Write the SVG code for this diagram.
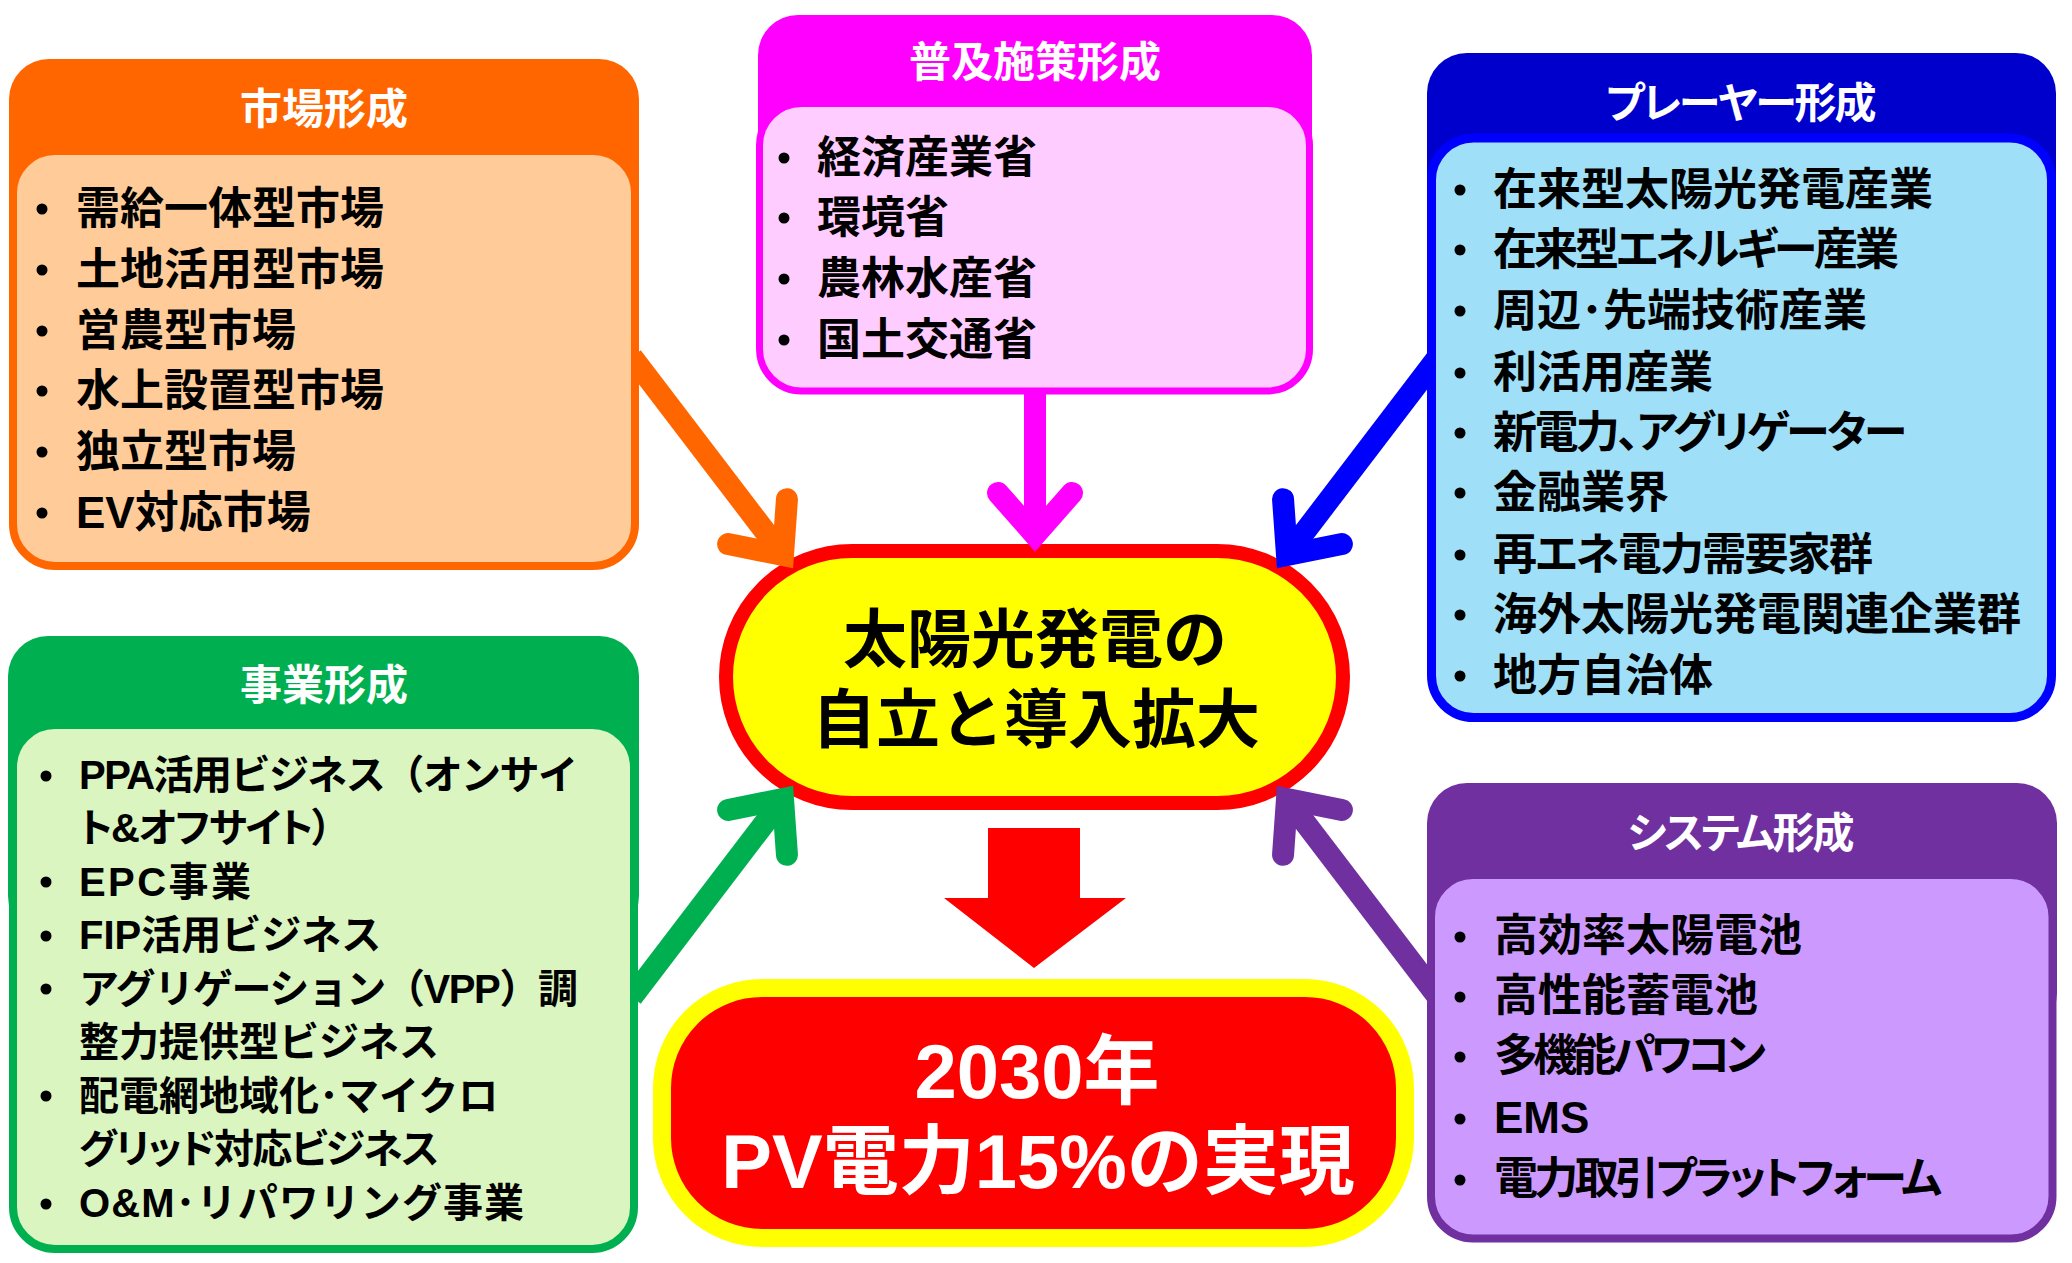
<svg xmlns="http://www.w3.org/2000/svg" width="2072" height="1263" viewBox="0 0 2072 1263">
<style>
text{font-family:"Liberation Sans","Noto Sans CJK JP","Noto Sans CJK SC",sans-serif;font-weight:700}
.kana{font-feature-settings:"palt" 1}
.title{font-size:42px;fill:#FFFFFF;text-anchor:middle}
.item{font-size:44px;fill:#000000}
.itemS{font-size:40px;fill:#000000}
.bul{fill:#000000}
.ctr{font-size:64px;fill:#000000;text-anchor:middle}
.goal{font-size:76px;fill:#FFFFFF;text-anchor:middle}
.conn{fill:none;stroke-width:22;stroke-linecap:butt}
.ah{fill:none;stroke-width:22;stroke-linecap:round;stroke-linejoin:miter;stroke-miterlimit:10}
</style>
<defs>
<marker id="m-or" markerUnits="userSpaceOnUse" markerWidth="120" markerHeight="120" viewBox="-60 -60 120 120" refX="0" refY="0" orient="auto" overflow="visible"><path class="ah" d="M-42,-37 L0,0 L-42,37" stroke="#FF6600"/></marker>
<marker id="m-mg" markerUnits="userSpaceOnUse" markerWidth="120" markerHeight="120" viewBox="-60 -60 120 120" refX="0" refY="0" orient="auto" overflow="visible"><path class="ah" d="M-42,-37 L0,0 L-42,37" stroke="#FF00FF"/></marker>
<marker id="m-bl" markerUnits="userSpaceOnUse" markerWidth="120" markerHeight="120" viewBox="-60 -60 120 120" refX="0" refY="0" orient="auto" overflow="visible"><path class="ah" d="M-42,-37 L0,0 L-42,37" stroke="#0000FF"/></marker>
<marker id="m-gr" markerUnits="userSpaceOnUse" markerWidth="120" markerHeight="120" viewBox="-60 -60 120 120" refX="0" refY="0" orient="auto" overflow="visible"><path class="ah" d="M-42,-37 L0,0 L-42,37" stroke="#00B050"/></marker>
<marker id="m-pu" markerUnits="userSpaceOnUse" markerWidth="120" markerHeight="120" viewBox="-60 -60 120 120" refX="0" refY="0" orient="auto" overflow="visible"><path class="ah" d="M-42,-37 L0,0 L-42,37" stroke="#7030A0"/></marker>
</defs>
<rect x="0" y="0" width="2072" height="1263" fill="#FFFFFF"/>

<g id="center">
<rect x="726" y="551" width="617" height="252" rx="126" ry="126" fill="#FFFF00" stroke="#FF0000" stroke-width="14"/>
<text class="ctr" x="1035" y="662">太陽光発電の</text>
<text class="ctr" x="1036" y="742">自立と導入拡大</text>
</g>

<g id="goal">
<rect x="662" y="988" width="743" height="250" rx="100" ry="100" fill="#FF0000" stroke="#FFFF00" stroke-width="18"/>
<text class="goal" x="1037" y="1098">2030年</text>
<text class="goal" x="1038" y="1188">PV電力15%の実現</text>
</g>

<g id="connectors">
<polygon points="988,828 1080,828 1080,898 1126,898 1034,968 944,898 988,898" fill="#FF0000"/>
<path class="conn" d="M632,357 L783,555" stroke="#FF6600" marker-end="url(#m-or)"/>
<path class="conn" d="M1035,390 L1035,535" stroke="#FF00FF" marker-end="url(#m-mg)"/>
<path class="conn" d="M1438,357 L1287,555" stroke="#0000FF" marker-end="url(#m-bl)"/>
<path class="conn" d="M632,997 L783,799" stroke="#00B050" marker-end="url(#m-gr)"/>
<path class="conn" d="M1438,997 L1287,799" stroke="#7030A0" marker-end="url(#m-pu)"/>
</g>

<g id="market">
<rect x="9" y="59" width="630" height="300" rx="40" fill="#FF6600"/>
<rect x="13" y="151" width="622" height="415" rx="42" fill="#FFCC99" stroke="#FF6600" stroke-width="8"/>
<text class="title" x="324" y="124">市場形成</text>
<circle class="bul" cx="42" cy="209" r="5.5"/>
<circle class="bul" cx="42" cy="270" r="5.5"/>
<circle class="bul" cx="42" cy="331" r="5.5"/>
<circle class="bul" cx="42" cy="391" r="5.5"/>
<circle class="bul" cx="42" cy="452" r="5.5"/>
<circle class="bul" cx="42" cy="513" r="5.5"/>
<text class="item" x="76" y="224">需給一体型市場</text>
<text class="item" x="76" y="285">土地活用型市場</text>
<text class="item" x="76" y="346">営農型市場</text>
<text class="item" x="76" y="406">水上設置型市場</text>
<text class="item" x="76" y="467">独立型市場</text>
<text class="item" x="76" y="528">EV対応市場</text>
</g>

<g id="policy">
<rect x="758" y="15" width="554" height="250" rx="40" fill="#FF00FF"/>
<rect x="759.5" y="103.5" width="550" height="287.5" rx="42" fill="#FFCCFF" stroke="#FF00FF" stroke-width="7"/>
<text class="title" x="1035" y="77">普及施策形成</text>
<circle class="bul" cx="784" cy="158" r="5.5"/>
<circle class="bul" cx="784" cy="218" r="5.5"/>
<circle class="bul" cx="784" cy="279" r="5.5"/>
<circle class="bul" cx="784" cy="340" r="5.5"/>
<text class="item" x="817" y="173">経済産業省</text>
<text class="item" x="817" y="233">環境省</text>
<text class="item" x="817" y="294">農林水産省</text>
<text class="item" x="817" y="355">国土交通省</text>
</g>

<g id="player">
<rect x="1427" y="53" width="629" height="300" rx="40" fill="#0000CC"/>
<rect x="1431.5" y="138" width="620" height="579.5" rx="42" fill="#9FDFF7" stroke="#0000FF" stroke-width="9"/>
<text class="title kana" x="1741" y="118" textLength="271" lengthAdjust="spacing">プレーヤー形成</text>
<circle class="bul" cx="1460" cy="190" r="5.5"/>
<circle class="bul" cx="1460" cy="250" r="5.5"/>
<circle class="bul" cx="1460" cy="311" r="5.5"/>
<circle class="bul" cx="1460" cy="373" r="5.5"/>
<circle class="bul" cx="1460" cy="433" r="5.5"/>
<circle class="bul" cx="1460" cy="493" r="5.5"/>
<circle class="bul" cx="1460" cy="555" r="5.5"/>
<circle class="bul" cx="1460" cy="615" r="5.5"/>
<circle class="bul" cx="1460" cy="676" r="5.5"/>
<text class="item" x="1493" y="205">在来型太陽光発電産業</text>
<text class="item kana" x="1493" y="265" textLength="406" lengthAdjust="spacing">在来型エネルギー産業</text>
<text class="item" x="1493" y="326">周辺･先端技術産業</text>
<text class="item" x="1493" y="388">利活用産業</text>
<text class="item kana" x="1493" y="448" textLength="414" lengthAdjust="spacing">新電力、アグリゲーター</text>
<text class="item" x="1493" y="508">金融業界</text>
<text class="item kana" x="1493" y="570" textLength="380" lengthAdjust="spacing">再エネ電力需要家群</text>
<text class="item" x="1493" y="630">海外太陽光発電関連企業群</text>
<text class="item" x="1493" y="691">地方自治体</text>
</g>

<g id="business">
<rect x="8" y="636" width="631" height="300" rx="40" fill="#00B050"/>
<rect x="13" y="725" width="621" height="524" rx="42" fill="#DAF5C0" stroke="#00B050" stroke-width="8"/>
<text class="title" x="324" y="700">事業形成</text>
<circle class="bul" cx="46" cy="776" r="5.5"/>
<circle class="bul" cx="46" cy="882" r="5.5"/>
<circle class="bul" cx="46" cy="936" r="5.5"/>
<circle class="bul" cx="46" cy="989" r="5.5"/>
<circle class="bul" cx="46" cy="1096" r="5.5"/>
<circle class="bul" cx="46" cy="1204" r="5.5"/>
<text class="itemS" x="79" y="789" textLength="499" lengthAdjust="spacing">PPA活用ビジネス（オンサイ</text>
<text class="itemS kana" x="79" y="842" textLength="253" lengthAdjust="spacing">ト&amp;オフサイト）</text>
<text class="itemS" x="79" y="896" textLength="172" lengthAdjust="spacing">EPC事業</text>
<text class="itemS" x="79" y="949">FIP活用ビジネス</text>
<text class="itemS" x="79" y="1003" textLength="499" lengthAdjust="spacing">アグリゲーション（VPP）調</text>
<text class="itemS" x="79" y="1056">整力提供型ビジネス</text>
<text class="itemS" x="79" y="1110">配電網地域化･マイクロ</text>
<text class="itemS kana" x="79" y="1163" textLength="360" lengthAdjust="spacing">グリッド対応ビジネス</text>
<text class="itemS" x="79" y="1217" textLength="445" lengthAdjust="spacing">O&amp;M･リパワリング事業</text>
</g>

<g id="system">
<rect x="1427" y="783" width="630" height="250" rx="40" fill="#7030A0"/>
<rect x="1431" y="875" width="621.5" height="363.5" rx="42" fill="#CC99FF" stroke="#7030A0" stroke-width="8"/>
<text class="title kana" x="1741" y="848" textLength="227" lengthAdjust="spacing">システム形成</text>
<circle class="bul" cx="1460" cy="937" r="5.5"/>
<circle class="bul" cx="1460" cy="997" r="5.5"/>
<circle class="bul" cx="1460" cy="1057" r="5.5"/>
<circle class="bul" cx="1460" cy="1119" r="5.5"/>
<circle class="bul" cx="1460" cy="1180" r="5.5"/>
<text class="item" x="1494" y="951">高効率太陽電池</text>
<text class="item" x="1494" y="1011">高性能蓄電池</text>
<text class="item kana" x="1494" y="1071" textLength="272" lengthAdjust="spacing">多機能パワコン</text>
<text class="item" x="1494" y="1133">EMS</text>
<text class="item kana" x="1494" y="1194" textLength="448" lengthAdjust="spacing">電力取引プラットフォーム</text>
</g>
</svg>
